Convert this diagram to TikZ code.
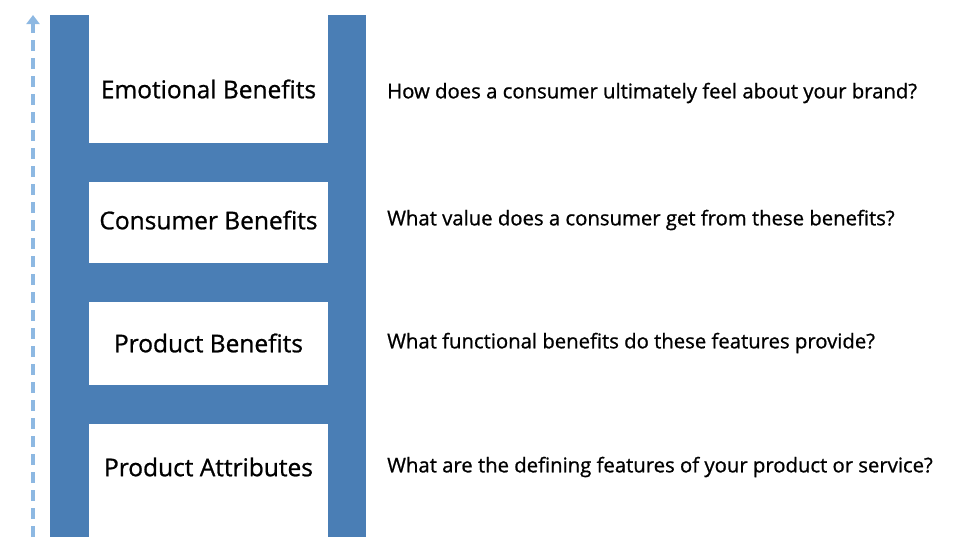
\documentclass[tikz,border=0pt]{standalone}
\usepackage{fontspec}
\setmainfont{Open Sans}
\newfontfamily\medfont{Open Sans}[FakeBold=0.9]
\usetikzlibrary{positioning,arrows.meta}
\definecolor{rail}{HTML}{4A7EB5}
\definecolor{arrowblue}{HTML}{8DB8E2}
\begin{document}
\begin{tikzpicture}[x=1pt,y=-1pt,
    rung/.style={rectangle, fill=white, minimum width=239pt, inner sep=0pt},
    steptext/.style={inner sep=0pt, font=\medfont\fontsize{24.5}{28}\selectfont},
    question/.style={anchor=west, inner sep=0pt, font=\medfont\fontsize{20.3}{24}\selectfont}]
    \useasboundingbox (0,0) rectangle (975,550);
    % ladder frame
    \fill[rail] (50,15) rectangle (366,537);
    % steps of the ladder
    \node (emotional) [rung, minimum height=128pt] at (208.5,79) {};
    \node (consumer) [rung, minimum height=81pt] at (208.5,222.5) {};
    \node (product) [rung, minimum height=83pt] at (208.5,343.5) {};
    \node (attributes) [rung, minimum height=113pt] at (208.5,480.5) {};
    \node (emotionaltext) [steptext] at (208.5,89) {Emotional Benefits};
    \node (consumertext) [steptext] at (208.5,220) {Consumer Benefits};
    \node (producttext) [steptext] at (208.5,343) {Product Benefits};
    \node (attributestext) [steptext] at (208.5,467) {Product Attributes};
    % questions
    \node (q1) [question] at (387,93) {How does a consumer ultimately feel about your brand?};
    \node (q2) [question] at (387,220) {What value does a consumer get from these benefits?};
    \node (q3) [question] at (387,343) {What functional benefits do these features provide?};
    \node (q4) [question] at (387,467) {What are the defining features of your product or service?};
    % upward arrow
    \coordinate (bottom) at (33,537);
    \coordinate (top) at (33,15);
    \draw[arrowblue, line width=4pt, dash pattern=on 11pt off 7pt, -{Triangle[length=9pt,width=13pt]}] (bottom) -- (top);
\end{tikzpicture}
\end{document}
